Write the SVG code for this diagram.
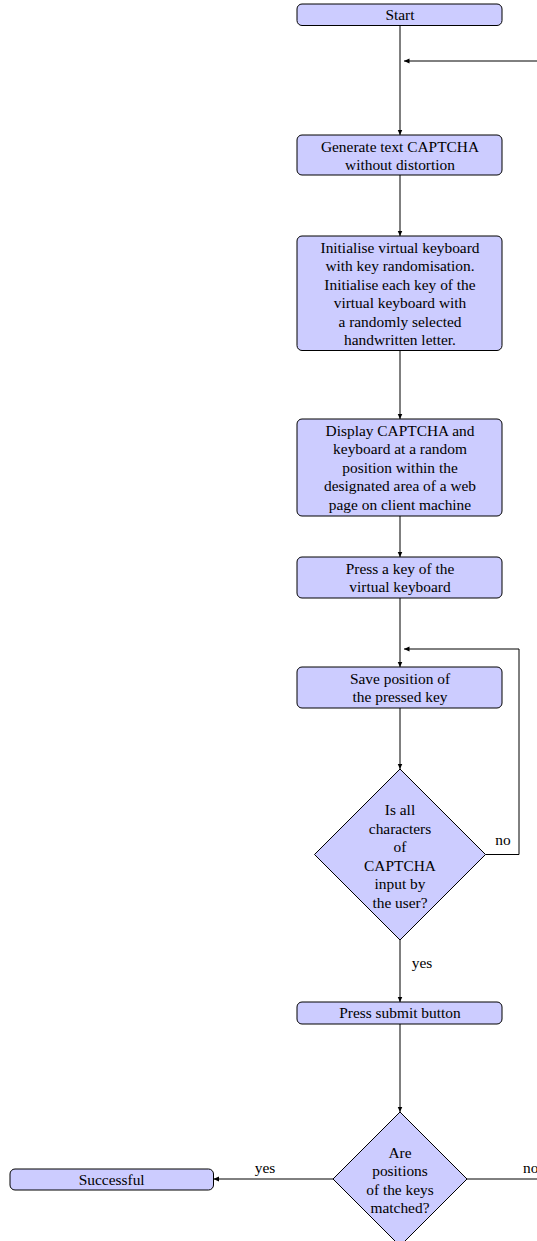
<svg xmlns="http://www.w3.org/2000/svg" width="537" height="1241" viewBox="0 0 537 1241">
<defs>
<marker id="arr" markerUnits="userSpaceOnUse" markerWidth="7" markerHeight="6" refX="5.5" refY="2.5" orient="auto">
<path d="M0,0 L5.5,2.5 L0,5 Z" fill="#000"/>
</marker>
<style>
.box{fill:#ccccff;stroke:#000;stroke-width:1}
.t{font-family:"Liberation Serif","Times New Roman",serif;font-size:15.4px;fill:#000;text-anchor:middle}
.lbl{font-family:"Liberation Serif","Times New Roman",serif;font-size:15.4px;fill:#000}
.c{fill:none;stroke:#000;stroke-width:1}
.a{marker-end:url(#arr)}
</style>
</defs>
<rect width="537" height="1241" fill="#fff"/>
<g id="connectors">
<line class="c a" x1="400" y1="25.5" x2="400" y2="135"/>
<line class="c a" x1="537" y1="61" x2="404" y2="61"/>
<line class="c a" x1="400" y1="175" x2="400" y2="236"/>
<line class="c a" x1="400" y1="350.5" x2="400" y2="419"/>
<line class="c a" x1="400" y1="516" x2="400" y2="557"/>
<line class="c a" x1="400" y1="598" x2="400" y2="667"/>
<polyline class="c a" points="485.5,854.5 519,854.5 519,649 404,649"/>
<line class="c a" x1="400" y1="708" x2="400" y2="769"/>
<line class="c a" x1="400" y1="940" x2="400" y2="1002"/>
<line class="c a" x1="400" y1="1024" x2="400" y2="1112"/>
<line class="c a" x1="333" y1="1179" x2="213.5" y2="1179"/>
<line class="c" x1="467" y1="1179" x2="537" y2="1179"/>
<text class="lbl" x="503" y="845" text-anchor="middle">no</text>
<text class="lbl" x="422" y="968" text-anchor="middle">yes</text>
<text class="lbl" x="265" y="1173" text-anchor="middle">yes</text>
<text class="lbl" x="523" y="1173">no</text>
</g>
<g id="start">
<rect class="box" x="297" y="4" width="205" height="21.5" rx="5"/>
<text class="t" x="400" y="20">Start</text>
</g>
<g id="generate">
<rect class="box" x="297" y="135" width="205" height="40" rx="5"/>
<text class="t" x="400" y="151.5">Generate text CAPTCHA</text>
<text class="t" x="400" y="170">without distortion</text>
</g>
<g id="initialise">
<rect class="box" x="297" y="236" width="205" height="114.5" rx="5"/>
<text class="t" x="400" y="252.5">Initialise virtual keyboard</text>
<text class="t" x="400" y="271">with key randomisation.</text>
<text class="t" x="400" y="289.6">Initialise each key of the</text>
<text class="t" x="400" y="308.2">virtual keyboard with</text>
<text class="t" x="400" y="326.8">a randomly selected</text>
<text class="t" x="400" y="345.4">handwritten letter.</text>
</g>
<g id="display">
<rect class="box" x="297" y="419" width="205" height="97" rx="5"/>
<text class="t" x="400" y="435.5">Display CAPTCHA and</text>
<text class="t" x="400" y="454.1">keyboard at a random</text>
<text class="t" x="400" y="472.7">position within the</text>
<text class="t" x="400" y="491.3">designated area of a web</text>
<text class="t" x="400" y="509.9">page on client machine</text>
</g>
<g id="press-key">
<rect class="box" x="297" y="557" width="205" height="41" rx="5"/>
<text class="t" x="400" y="573.5">Press a key of the</text>
<text class="t" x="400" y="592">virtual keyboard</text>
</g>
<g id="save">
<rect class="box" x="297" y="667" width="205" height="41" rx="5"/>
<text class="t" x="400" y="683.5">Save position of</text>
<text class="t" x="400" y="702">the pressed key</text>
</g>
<g id="decision-all">
<polygon class="box" points="400,769 485.5,854.5 400,940 314.5,854.5"/>
<text class="t" x="400" y="815">Is all</text>
<text class="t" x="400" y="833.6">characters</text>
<text class="t" x="400" y="852.2">of</text>
<text class="t" x="400" y="870.8">CAPTCHA</text>
<text class="t" x="400" y="889.4">input by</text>
<text class="t" x="400" y="908">the user?</text>
</g>
<g id="submit">
<rect class="box" x="297" y="1002" width="205" height="22" rx="5"/>
<text class="t" x="400" y="1018">Press submit button</text>
</g>
<g id="decision-match">
<polygon class="box" points="400,1112 467,1179 400,1246 333,1179"/>
<text class="t" x="400" y="1157.5">Are</text>
<text class="t" x="400" y="1176.1">positions</text>
<text class="t" x="400" y="1194.7">of the keys</text>
<text class="t" x="400" y="1213.3">matched?</text>
</g>
<g id="successful">
<rect class="box" x="10" y="1169" width="203.5" height="21" rx="5"/>
<text class="t" x="111.7" y="1185">Successful</text>
</g>
</svg>
